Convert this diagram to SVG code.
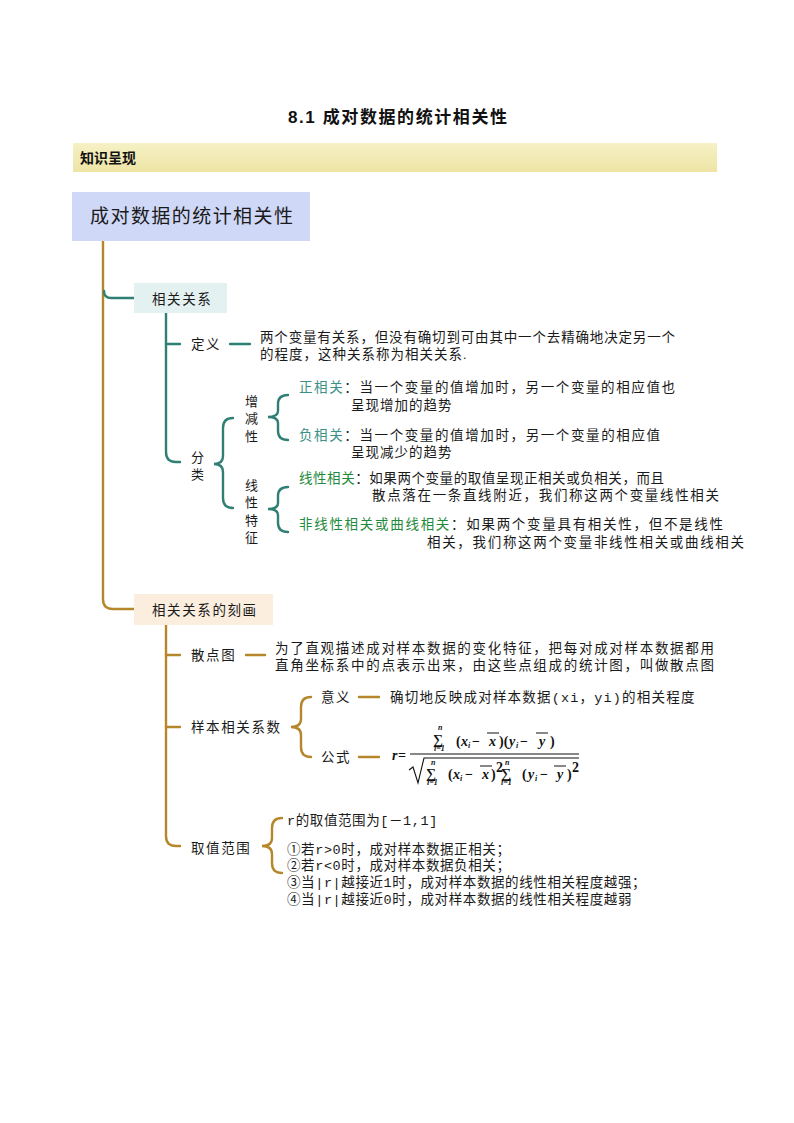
<svg xmlns="http://www.w3.org/2000/svg" width="794" height="1123" viewBox="0 0 794 1123">
<defs>
<linearGradient id="ban" x1="0" y1="0" x2="0" y2="1">
<stop offset="0" stop-color="#f6f1c6"/>
<stop offset="1" stop-color="#ede4a4"/>
</linearGradient>
</defs>
<style>
.t{font-family:"Liberation Serif","Noto Sans CJK SC",serif;font-size:13.5px;fill:#1a1a1a;letter-spacing:1px}
.mo{font-family:"Liberation Mono","Noto Sans CJK SC",monospace;font-size:13.5px;fill:#1a1a1a;letter-spacing:0.6px}
.lb{font-family:"Noto Sans CJK SC",sans-serif;font-size:13.5px;fill:#1a1a1a;letter-spacing:1.6px}
.vl{font-family:"Noto Sans CJK SC",sans-serif;font-size:13px;fill:#1a1a1a}
.tl{fill:none;stroke:#2f7f74;stroke-width:2.4;stroke-linecap:round}
.gd{fill:none;stroke:#b5862a;stroke-width:2.4;stroke-linecap:round}
.tc{fill:#3a8f86}
.gc{fill:#1f8a3c}
.m{font-family:"Liberation Serif",serif;font-size:14px;font-weight:bold;font-style:italic;fill:#111}
.mn{font-family:"Liberation Serif",serif;font-size:14px;font-weight:bold;fill:#111}
.ms{font-family:"Liberation Serif",serif;font-size:8px;font-style:italic;font-weight:bold;fill:#111}
.ov{stroke:#111;stroke-width:1}
</style>

<g id="title">
<text x="288" y="123" textLength="219" font-family="Liberation Sans,'Noto Sans CJK SC',sans-serif" font-size="17" font-weight="bold" fill="#111">8.1  成对数据的统计相关性</text>
</g>

<g id="banner">
<rect x="73" y="143" width="644" height="29" fill="url(#ban)"/>
<text x="80" y="163" font-family="'Noto Sans CJK SC',sans-serif" font-size="14" font-weight="bold" fill="#111">知识呈现</text>
</g>

<g id="connectors">
<path class="gd" d="M103 241 L103 599 Q103 609 113 609 L134 609" stroke-width="3"/>
<path class="tl" d="M104 291 Q104 298 111 298 L134 298"/>
<path class="tl" d="M166 313 L166 452 Q166 462 176 462 L180 462"/>
<path class="tl" d="M166 344 L180 344"/>
<path class="tl" d="M230 344 L250 344"/>
<path class="tl" d="M233 418 Q223 418 223 428 L223 456 Q223 464 214 464 Q223 464 223 472 L223 498 Q223 508 233 508"/>
<path class="tl" d="M288 395 Q278 395 278 404 L278 411 Q278 417 268 417 Q278 417 278 423 L278 431 Q278 440 288 440"/>
<path class="tl" d="M288 487 Q278 487 278 496 L278 503 Q278 509 268 509 Q278 509 278 515 L278 523 Q278 532 288 532"/>
<path class="gd" d="M166 625 L166 836 Q166 846 176 846 L180 846"/>
<path class="gd" d="M166 655 L180 655"/>
<path class="gd" d="M166 727 L180 727"/>
<path class="gd" d="M246 655 L265 655"/>
<path class="gd" d="M311 697 Q301 697 301 707 L301 719 Q301 727 291 727 Q301 727 301 735 L301 747 Q301 757 311 757"/>
<path class="gd" d="M359 697 L379 697"/>
<path class="gd" d="M359 757 L379 757"/>
<path class="gd" d="M282 818 Q272 818 272 828 L272 838 Q272 846 262 846 Q272 846 272 854 L272 863 Q272 873 282 873"/>
</g>

<g id="root">
<rect x="72" y="192" width="238" height="49" fill="#d0d8f7"/>
<text x="90" y="223" textLength="203" font-family="'Noto Sans CJK SC',sans-serif" font-size="19" fill="#1a1a1a">成对数据的统计相关性</text>
</g>

<g id="n-xgxg">
<rect x="134" y="283" width="93" height="30" fill="#e4f1f1"/>
<text class="lb" x="152" y="304">相关关系</text>
</g>

<g id="n-dingyi">
<text class="lb" x="191" y="349">定义</text>
<text class="t" x="260" y="342" textLength="416">两个变量有关系，但没有确切到可由其中一个去精确地决定另一个</text>
<text class="t" x="260" y="359">的程度，这种关系称为相关关系.</text>
</g>

<g id="n-fenlei">
<text class="vl" x="191" y="462">分</text>
<text class="vl" x="191" y="479">类</text>
</g>

<g id="n-zengjian">
<text class="vl" x="245" y="406">增</text>
<text class="vl" x="245" y="423">减</text>
<text class="vl" x="245" y="441">性</text>
<text class="t" x="299" y="392" textLength="377"><tspan class="tc">正相关</tspan>：当一个变量的值增加时，另一个变量的相应值也</text>
<text class="t" x="351" y="410">呈现增加的趋势</text>
<text class="t" x="299" y="440" textLength="362"><tspan class="tc">负相关</tspan>：当一个变量的值增加时，另一个变量的相应值</text>
<text class="t" x="351" y="457">呈现减少的趋势</text>
</g>

<g id="n-xianxing">
<text class="vl" x="245" y="490">线</text>
<text class="vl" x="245" y="507">性</text>
<text class="vl" x="245" y="525">特</text>
<text class="vl" x="245" y="542">征</text>
<text class="t" x="299" y="483" textLength="366"><tspan class="gc">线性相关</tspan>：如果两个变量的取值呈现正相关或负相关，而且</text>
<text class="t" x="372" y="500" textLength="348">散点落在一条直线附近，我们称这两个变量线性相关</text>
<text class="t" x="299" y="529" textLength="425"><tspan class="gc">非线性相关或曲线相关</tspan>：如果两个变量具有相关性，但不是线性</text>
<text class="t" x="427" y="547" textLength="318">相关，我们称这两个变量非线性相关或曲线相关</text>
</g>

<g id="n-kehua">
<rect x="134" y="594" width="139" height="31" fill="#fbeedf"/>
<text class="lb" x="152" y="615">相关关系的刻画</text>
</g>

<g id="n-sandian">
<text class="lb" x="191" y="660">散点图</text>
<text class="t" x="275" y="653" textLength="440">为了直观描述成对样本数据的变化特征，把每对成对样本数据都用</text>
<text class="t" x="275" y="670" textLength="440">直角坐标系中的点表示出来，由这些点组成的统计图，叫做散点图</text>
</g>

<g id="n-xishu">
<text class="lb" x="191" y="732">样本相关系数</text>
<text class="lb" x="321" y="702">意义</text>
<text class="mo" x="390" y="702" textLength="305">确切地反映成对样本数据(xi，yi)的相关程度</text>
<text class="lb" x="321" y="762">公式</text>
</g>

<g id="formula">
<text class="m" x="392" y="760">r</text>
<text class="mn" x="398" y="760">=</text>
<line class="ov" x1="410" y1="754" x2="579" y2="754"/>
<text class="ms" x="438" y="730" font-size="7">n</text>
<text class="mn" x="433" y="744" font-size="13">∑</text>
<text class="ms" x="434" y="751" font-size="7">i=1</text>
<text class="mn" x="456" y="746">(</text>
<text class="m" x="461" y="746">x</text>
<text class="ms" x="468" y="748">i</text>
<text class="mn" x="472" y="746">−</text>
<text class="m" x="489" y="746">x</text>
<line class="ov" x1="487" y1="733" x2="499" y2="733"/>
<text class="mn" x="499" y="746">)(</text>
<text class="m" x="509" y="746">y</text>
<text class="ms" x="516" y="748">i</text>
<text class="mn" x="520" y="746">−</text>
<text class="m" x="539" y="746">y</text>
<line class="ov" x1="536" y1="733" x2="548" y2="733"/>
<text class="mn" x="550" y="746">)</text>
<path d="M409 770 L413 767 L418 783 L424 758 L579 758" fill="none" stroke="#111" stroke-width="1.1"/>
<text class="ms" x="431" y="765" font-size="7">n</text>
<text class="mn" x="426" y="778" font-size="13">∑</text>
<text class="ms" x="427" y="785" font-size="7">i=1</text>
<text class="mn" x="448" y="779">(</text>
<text class="m" x="453" y="779">x</text>
<text class="ms" x="460" y="781">i</text>
<text class="mn" x="465" y="779">−</text>
<text class="m" x="482" y="779">x</text>
<line class="ov" x1="480" y1="766" x2="492" y2="766"/>
<text class="mn" x="491" y="779">)</text>
<text class="mn" x="496" y="772" font-size="9">2</text>
<text class="mn" x="501" y="778" font-size="13">∑</text>
<text class="ms" x="505" y="765" font-size="7">n</text>
<text class="ms" x="501" y="785" font-size="7">i=1</text>
<text class="mn" x="522" y="779">(</text>
<text class="m" x="528" y="779">y</text>
<text class="ms" x="535" y="781">i</text>
<text class="mn" x="540" y="779">−</text>
<text class="m" x="557" y="779">y</text>
<line class="ov" x1="554" y1="766" x2="566" y2="766"/>
<text class="mn" x="567" y="779">)</text>
<text class="mn" x="572" y="772" font-size="9">2</text>
</g>

<g id="n-fanwei">
<text class="lb" x="191" y="853">取值范围</text>
<text class="mo" x="287" y="825">r的取值范围为[－1,1]</text>
<text class="mo" x="287" y="854">①若r&gt;0时，成对样本数据正相关；</text>
<text class="mo" x="287" y="870">②若r&lt;0时，成对样本数据负相关；</text>
<text class="mo" x="287" y="887">③当|r|越接近1时，成对样本数据的线性相关程度越强；</text>
<text class="mo" x="287" y="904">④当|r|越接近0时，成对样本数据的线性相关程度越弱</text>
</g>
</svg>
